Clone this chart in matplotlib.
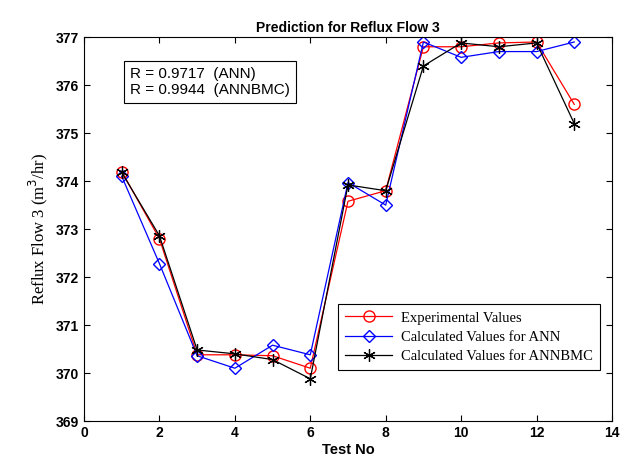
import matplotlib
matplotlib.use("Agg")
import matplotlib.pyplot as plt

test_no = [1, 2, 3, 4, 5, 6, 7, 8, 9, 10, 11, 12, 13]
experimental = [374.2, 372.8, 370.38, 370.38, 370.36, 370.1, 373.58, 373.8, 376.8, 376.8, 376.88, 376.9, 375.6]
ann = [374.1, 372.28, 370.36, 370.1, 370.58, 370.38, 373.97, 373.5, 376.9, 376.58, 376.7, 376.7, 376.9]
annbmc = [374.18, 372.86, 370.48, 370.4, 370.28, 369.88, 373.92, 373.8, 376.4, 376.88, 376.8, 376.88, 375.2]

xticks = [0, 2, 4, 6, 8, 10, 12, 14]
yticks = [369, 370, 371, 372, 373, 374, 375, 376, 377]

fig = plt.figure(figsize=(6.27, 4.63), dpi=100)
ax = fig.add_axes([0.134, 0.0907, 0.842, 0.829])

ax.plot(test_no, experimental, color='red', marker='o', markersize=8,
        markerfacecolor='none', markeredgecolor='red', linewidth=0.9,
        label='Experimental Values')
ax.plot(test_no, ann, color='blue', marker='D', markersize=6.5,
        markerfacecolor='none', markeredgecolor='blue', linewidth=0.9,
        label='Calculated Values for ANN')
ax.plot(test_no, annbmc, color='black', marker=(6, 2, 0), markersize=9,
        markeredgecolor='black', markeredgewidth=0.9,
        linewidth=0.9, label='Calculated Values for ANNBMC')

ax.set_xlim(0, 14)
ax.set_ylim(369, 377)
ax.set_xticks(xticks)
ax.set_yticks(yticks)
ax.tick_params(direction='in', top=True, right=True, length=4, width=0.8)
for lab in ax.get_xticklabels() + ax.get_yticklabels():
    lab.set_fontfamily('Liberation Sans')
    lab.set_fontweight('bold')
    lab.set_fontsize(10)
for s in ax.spines.values():
    s.set_linewidth(0.8)

ax.set_title('Prediction for Reflux Flow 3', fontfamily='Liberation Sans',
             fontweight='bold', fontsize=10, pad=4)
ax.set_xlabel('Test No', fontfamily='Liberation Sans', fontweight='bold',
              fontsize=10.5, labelpad=2)
ax.set_ylabel('Reflux Flow 3 (m$^3$/hr)', fontfamily='Liberation Serif',
              fontsize=12, labelpad=4)

leg = ax.legend(loc='lower right', bbox_to_anchor=(0.977, 0.133),
                borderaxespad=0,
                prop={'family': 'Liberation Serif', 'size': 10.5},
                fancybox=False, edgecolor='black', framealpha=1,
                handlelength=3.2, handletextpad=0.6, borderpad=0.5,
                labelspacing=0.4)
leg.get_frame().set_linewidth(0.8)

ax.text(0.087, 0.922, 'R = 0.9717  (ANN)\nR = 0.9944  (ANNBMC)',
        transform=ax.transAxes, fontfamily='Liberation Sans', fontsize=11,
        va='top', ha='left', linespacing=1.15,
        bbox=dict(boxstyle='square,pad=0.4', facecolor='white',
                  edgecolor='black', linewidth=0.8))

fig.savefig('out.png', dpi=100)
